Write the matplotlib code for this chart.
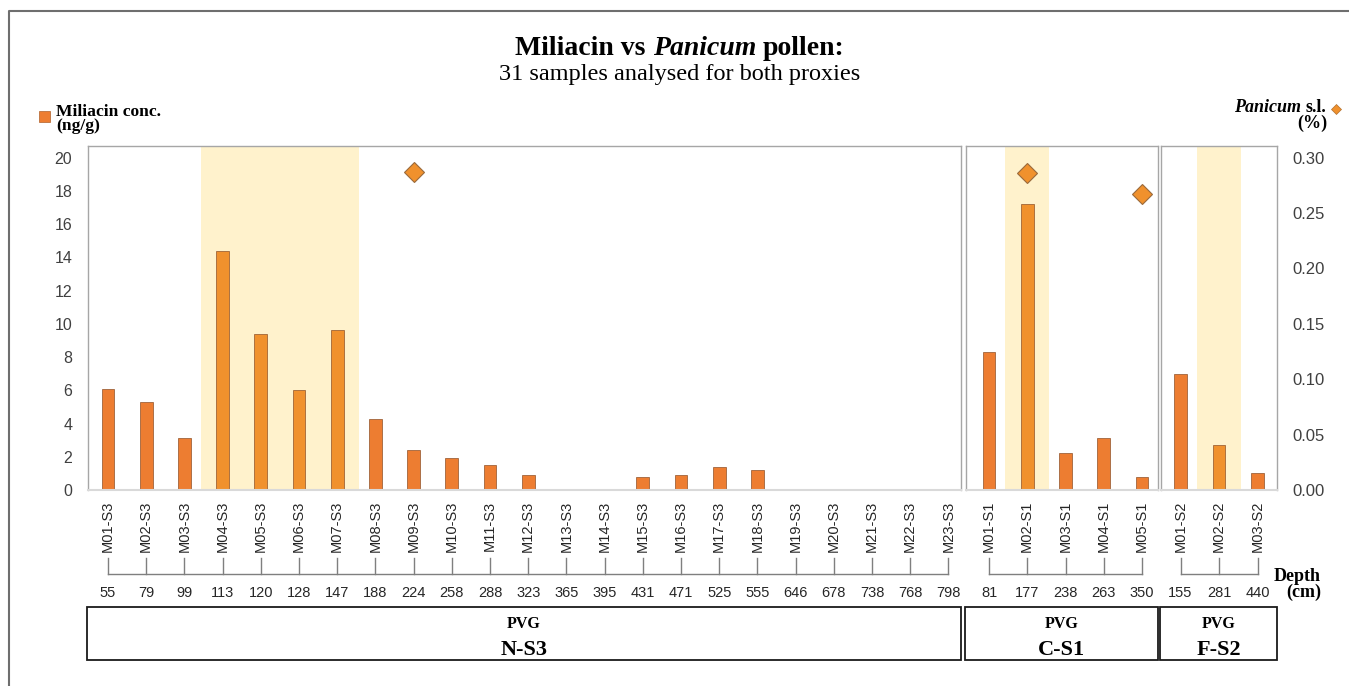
import numpy as np
import matplotlib
matplotlib.use('Agg')
import matplotlib.pyplot as plt
from matplotlib.patches import Rectangle
from matplotlib.lines import Line2D
from matplotlib.ticker import FormatStrFormatter
from matplotlib.transforms import blended_transform_factory

nan = np.nan

# --- data ---
ns3_samples = ['M01-S3', 'M02-S3', 'M03-S3', 'M04-S3', 'M05-S3', 'M06-S3', 'M07-S3',
               'M08-S3', 'M09-S3', 'M10-S3', 'M11-S3', 'M12-S3', 'M13-S3', 'M14-S3',
               'M15-S3', 'M16-S3', 'M17-S3', 'M18-S3', 'M19-S3', 'M20-S3', 'M21-S3',
               'M22-S3', 'M23-S3']
ns3_depth = [55, 79, 99, 113, 120, 128, 147, 188, 224, 258, 288, 323, 365, 395,
             431, 471, 525, 555, 646, 678, 738, 768, 798]
ns3_miliacin = [6.1, 5.3, 3.1, 14.4, 9.4, 6.0, 9.6, 4.3, 2.4, 1.9, 1.5, 0.9, 0, 0,
                0.8, 0.9, 1.4, 1.2, 0, 0, 0, 0, 0]
ns3_panicum = [nan, nan, nan, nan, nan, nan, nan, nan, 0.287, nan, nan, nan, nan, nan,
               nan, nan, nan, nan, nan, nan, nan, nan, nan]
ns3_shaded = ['M04-S3', 'M05-S3', 'M06-S3', 'M07-S3']

cs1_samples = ['M01-S1', 'M02-S1', 'M03-S1', 'M04-S1', 'M05-S1']
cs1_depth = [81, 177, 238, 263, 350]
cs1_miliacin = [8.3, 17.2, 2.2, 3.1, 0.8]
cs1_panicum = [nan, 0.286, nan, nan, 0.267]
cs1_shaded = ['M02-S1']

fs2_samples = ['M01-S2', 'M02-S2', 'M03-S2']
fs2_depth = [155, 281, 440]
fs2_miliacin = [7.0, 2.7, 1.0]
fs2_panicum = [nan, nan, nan]
fs2_shaded = ['M02-S2']

left_ticks = [0, 2, 4, 6, 8, 10, 12, 14, 16, 18, 20]
right_ticks = [0.0, 0.05, 0.10, 0.15, 0.20, 0.25, 0.30]

plt.rcParams['font.family'] = ['Liberation Sans', 'DejaVu Sans']
SERIF = ['Liberation Serif', 'DejaVu Serif']

ORANGE = '#ED7D31'
ORANGE_LIGHT = '#F0912D'
SHADE = '#FFF2CC'

W, H = 1349, 686
fig = plt.figure(figsize=(W / 100, H / 100), dpi=100)


def fx(x):
    return x / W


def fy(y):
    return 1 - y / H


AX_TOP, AX_BOT = 146, 490
YMAX = 20.7
RATIO = 0.015

# layout per panel (pixels): left edge, right edge, first bar centre, spacing
panels = [
    dict(samples=ns3_samples, depth=ns3_depth, mil=ns3_miliacin, pan=ns3_panicum,
         shade=ns3_shaded, site='N-S3', left=87.5, right=961, first=108, step=38.2),
    dict(samples=cs1_samples, depth=cs1_depth, mil=cs1_miliacin, pan=cs1_panicum,
         shade=cs1_shaded, site='C-S1', left=966, right=1157.5, first=989, step=38.25),
    dict(samples=fs2_samples, depth=fs2_depth, mil=fs2_miliacin, pan=fs2_panicum,
         shade=fs2_shaded, site='F-S2', left=1161, right=1277, first=1180.5, step=38.5),
]

for k, p in enumerate(panels):
    samples = p['samples']
    n = len(samples)
    x = np.arange(n)
    ax = fig.add_axes([fx(p['left']), fy(AX_BOT), (p['right'] - p['left']) / W,
                       (AX_BOT - AX_TOP) / H])

    idx = [samples.index(s) for s in p['shade']]
    ax.axvspan(min(idx) - 0.57, max(idx) + 0.57, color=SHADE, lw=0, zorder=0)
    colors = [ORANGE_LIGHT if s in p['shade'] else ORANGE for s in samples]
    ax.bar(x, p['mil'], width=0.33, color=colors, edgecolor='#8E5128',
           linewidth=0.5, zorder=2)

    ax.set_xlim((p['left'] - p['first']) / p['step'], (p['right'] - p['first']) / p['step'])
    ax.set_ylim(0, YMAX)
    for name, sp in ax.spines.items():
        sp.set_color('#A6A6A6')
        sp.set_linewidth(1)
    ax.spines['bottom'].set_color('#D9D9D9')
    ax.spines['bottom'].set_linewidth(1.5)

    ax.set_xticks(x, samples, rotation=90, fontsize=10.5, color='#262626')
    ax.tick_params(axis='x', length=0, pad=8)
    if k == 0:
        ax.set_yticks(left_ticks)
        ax.tick_params(axis='y', length=0, pad=11, labelsize=11.5, labelcolor='#404040')
    else:
        ax.set_yticks([])

    ax2 = ax.twinx()
    ax2.plot(x, p['pan'], ls='none', marker='D', ms=10.5, mfc=ORANGE_LIGHT,
             mec='#9A6A3C', mew=0.8, clip_on=False, zorder=3)
    ax2.set_ylim(0, YMAX * RATIO)
    for sp in ax2.spines.values():
        sp.set_visible(False)
    if k == len(panels) - 1:
        ax2.set_yticks(right_ticks)
        ax2.yaxis.set_major_formatter(FormatStrFormatter('%.2f'))
        ax2.tick_params(axis='y', length=0, pad=11, labelsize=12, labelcolor='#404040')
    else:
        ax2.set_yticks([])

    # depth bracket under the sample names
    tr = blended_transform_factory(ax.transData, fig.transFigure)
    for xi in x:
        fig.add_artist(Line2D([xi, xi], [fy(558), fy(574)], transform=tr,
                              color='#7F7F7F', lw=1))
    fig.add_artist(Line2D([x[0], x[-1]], [fy(574), fy(574)], transform=tr,
                          color='#7F7F7F', lw=1))
    for xi, d in zip(x, p['depth']):
        fig.text(xi, fy(597), str(d), transform=tr, ha='center', va='baseline',
                 fontsize=10.5, color='#262626')

    # site box
    fig.add_artist(Rectangle((fx(p['left'] - 1), fy(660)), (p['right'] - p['left'] + 1) / W,
                             (660 - 606.5) / H, transform=fig.transFigure,
                             fill=False, ec='#1A1A1A', lw=1.3))
    cx = fx((p['left'] - 1 + p['right']) / 2)
    fig.text(cx, fy(628), 'PVG', ha='center', va='baseline', family=SERIF,
             fontweight='bold', fontsize=11.5)
    fig.text(cx, fy(655), p['site'], ha='center', va='baseline', family=SERIF,
             fontweight='bold', fontsize=16)

renderer = fig.canvas.get_renderer()


def rich_text(x, y, parts, ha='center', size=12):
    """Place text pieces of different style side by side, one space apart."""
    probe1 = fig.text(0, 0, 'x x', family=SERIF, fontweight='bold', fontsize=size)
    probe2 = fig.text(0, 0, 'xx', family=SERIF, fontweight='bold', fontsize=size)
    space = probe1.get_window_extent(renderer).width - probe2.get_window_extent(renderer).width
    probe1.remove()
    probe2.remove()
    texts = [fig.text(0, fy(y), s, family=SERIF, fontsize=size, va='baseline', **st)
             for s, st in parts]
    widths = [t.get_window_extent(renderer).width for t in texts]
    total = sum(widths) + space * (len(parts) - 1)
    start = x - total / 2 if ha == 'center' else x - total
    for t, w in zip(texts, widths):
        t.set_x(fx(start))
        start += w + space


bold = dict(fontweight='bold')
bold_it = dict(fontweight='bold', fontstyle='italic')

rich_text(680, 55, [('Miliacin vs', bold), ('Panicum', bold_it), ('pollen:', bold)],
          size=20)
fig.text(fx(680), fy(80), '31 samples analysed for both proxies', ha='center',
         va='baseline', family=SERIF, fontsize=17.5)

# left legend
fig.add_artist(Rectangle((fx(39), fy(122)), 11 / W, 11 / H, transform=fig.transFigure,
                         fc=ORANGE, ec='#B0602A', lw=0.5))
fig.text(fx(56.5), fy(116), 'Miliacin conc.', ha='left', va='baseline', family=SERIF,
         fontweight='bold', fontsize=12.6)
fig.text(fx(56.5), fy(130.5), '(ng/g)', ha='left', va='baseline', family=SERIF,
         fontweight='bold', fontsize=12.6)

# right legend
rich_text(1326, 111.7, [('Panicum', bold_it), ('s.l.', bold)], ha='right', size=13)
fig.text(fx(1327), fy(127.5), '(%)', ha='right', va='baseline', family=SERIF,
         fontweight='bold', fontsize=13)
fig.add_artist(Line2D([fx(1336)], [fy(108.5)], transform=fig.transFigure, marker='D',
                      ms=5.2, mfc=ORANGE_LIGHT, mec='#B07030', mew=0.5, ls='none'))

# depth axis title
fig.text(fx(1321), fy(580.7), 'Depth', ha='right', va='baseline', family=SERIF,
         fontweight='bold', fontsize=13)
fig.text(fx(1321), fy(597), '(cm)', ha='right', va='baseline', family=SERIF,
         fontweight='bold', fontsize=13)

# outer frame (left and top edges)
fig.add_artist(Line2D([fx(9), fx(9), fx(1349)], [fy(686), fy(10.5), fy(10.5)],
                      transform=fig.transFigure, color='#6E6E6E', lw=1.5))

fig.savefig('out.png', dpi=100)
